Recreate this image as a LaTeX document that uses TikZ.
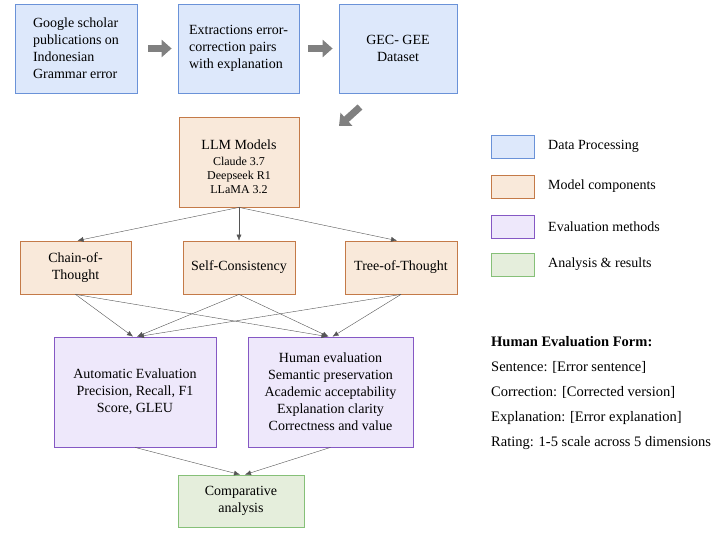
\documentclass[tikz,border=0pt]{standalone}
\usepackage{fontspec}
\setmainfont{Liberation Serif}
\usepackage{tikz}
\usetikzlibrary{shapes,arrows,arrows.meta,calc}
\definecolor{dpfill}{HTML}{DDE8FB}
\definecolor{dpdraw}{HTML}{6A92D8}
\definecolor{mcfill}{HTML}{F9E9DA}
\definecolor{mcdraw}{HTML}{C47A48}
\definecolor{evfill}{HTML}{EEE8FB}
\definecolor{evdraw}{HTML}{8558C4}
\definecolor{arfill}{HTML}{E5EEDC}
\definecolor{ardraw}{HTML}{86C078}
\definecolor{linegray}{HTML}{555555}
\definecolor{biggray}{HTML}{808080}
\tikzstyle{line} = [draw=linegray, -{Latex[length=6pt,width=5pt]}]
\tikzstyle{bigarrow} = [draw=biggray, line width=7pt, -{Triangle[length=10pt,width=17pt]}]
\tikzstyle{block} = [draw, rectangle, line width=0.8pt, text centered, font=\fontsize{14}{17}\selectfont]
\tikzstyle{dp} = [block, fill=dpfill, draw=dpdraw, minimum height=89pt]
\tikzstyle{mc} = [block, fill=mcfill, draw=mcdraw, minimum height=53pt]
\tikzstyle{ev} = [block, fill=evfill, draw=evdraw, minimum height=110pt]
\tikzstyle{ar} = [block, fill=arfill, draw=ardraw, minimum height=52pt]
\tikzstyle{legbox} = [draw, rectangle, line width=0.8pt, minimum width=43pt, minimum height=23pt]
\tikzstyle{legtext} = [anchor=west, inner sep=0pt, font=\fontsize{14}{17}\selectfont]
\tikzstyle{formtext} = [anchor=west, inner sep=0pt, font=\fontsize{14.5}{17}\selectfont]

\begin{document}
\begin{tikzpicture}[x=1pt, y=-1pt]
        \useasboundingbox (0,0) rectangle (720,540);
        % data processing
        \node[dp, minimum width=122pt, align=left] (scholar) at (76,48.5) {Google scholar\\publications on\\Indonesian\\Grammar error};
        \node[dp, minimum width=121pt, align=left] (extract) at (238.5,48.5) {Extractions error-\\correction pairs\\with explanation};
        \node[dp, minimum width=118pt, align=center] (dataset) at (398,48.5) {GEC- GEE\\Dataset};
        % model components
        \node[mc, minimum width=120pt, minimum height=90pt, align=center] (llm) at (239,162) {\rule{0pt}{19pt}LLM Models\\[-1pt]{\fontsize{12}{14}\selectfont Claude 3.7}\\[-3pt]{\fontsize{12}{14}\selectfont Deepseek R1}\\[-3pt]{\fontsize{12}{14}\selectfont LLaMA 3.2}};
        \node[mc, minimum width=111pt, align=center] (cot) at (75.5,267.5) {Chain-of-\\Thought};
        \node[mc, minimum width=112pt] (selfc) at (239,267.5) {Self-Consistency};
        \node[mc, minimum width=112pt] (tot) at (401,267.5) {Tree-of-Thought};
        % evaluation
        \node[ev, minimum width=162pt, align=center] (autoeval) at (135,392) {Automatic Evaluation\\Precision, Recall, F1\\Score, GLEU};
        \node[ev, minimum width=165pt, align=center] (humaneval) at (330.5,392) {Human evaluation\\Semantic preservation\\Academic acceptability\\Explanation clarity\\Correctness and value};
        \node[ar, minimum width=126pt, align=center] (compare) at (241,501) {Comparative\\analysis};
        % legend
        \node[legbox, fill=dpfill, draw=dpdraw] (lgdp) at (512.5,146.5) {};
        \node[legbox, fill=mcfill, draw=mcdraw] (lgmc) at (512.5,186.5) {};
        \node[legbox, fill=evfill, draw=evdraw] (lgev) at (512.5,226.5) {};
        \node[legbox, fill=arfill, draw=ardraw] (lgar) at (512.5,264.5) {};
        \node[legtext] (lgdptext) at (548,146.5) {Data Processing};
        \node[legtext] (lgmctext) at (548,186.5) {Model components};
        \node[legtext] (lgevtext) at (548,226.5) {Evaluation methods};
        \node[legtext] (lgartext) at (548,264.5) {Analysis \& results};
        % form
        \node[formtext, font=\fontsize{14.5}{17}\selectfont\bfseries] (formtitle) at (491,342) {Human Evaluation Form:};
        \node[formtext] (formsent) at (491,367) {Sentence: [Error sentence]};
        \node[formtext] (formcorr) at (491,392) {Correction: [Corrected version]};
        \node[formtext] (formexpl) at (491,418) {Explanation: [Error explanation]};
        \node[formtext] (formrate) at (491,443) {Rating: 1-5 scale across 5 dimensions};
        % big arrows
        \path[bigarrow, shorten <=11pt, shorten >=6pt] (scholar) -- (extract);
        \path[bigarrow, shorten <=9pt, shorten >=6pt] (extract) -- (dataset);
        \coordinate (diagstart) at (360,107);
        \coordinate (diagend) at (339,126);
        \path[bigarrow] (diagstart) -- (diagend);
        % thin arrows
        \path[line] (llm.south) -- ($(cot.north)+(2,0)$);
        \path[line] (llm.south) -- (selfc.north);
        \path[line] (llm.south) -- ($(tot.north)+(-4,0)$);
        \path[line] (cot.south) -- ($(autoeval.north)+(-2,0)$);
        \path[line] (cot.south) -- ($(humaneval.north)+(-3,0)$);
        \path[line] (selfc.south) -- ($(autoeval.north)+(2,0)$);
        \path[line] (selfc.south) -- ($(humaneval.north)+(-2,0)$);
        \path[line] (tot.south) -- ($(autoeval.north)+(3,0)$);
        \path[line] (tot.south) -- ($(humaneval.north)+(2,0)$);
        \path[line] (autoeval.south) -- ($(compare.north)+(-1,0)$);
        \path[line] (humaneval.south) -- ($(compare.north)+(4,0)$);
    \end{tikzpicture}
\end{document}
